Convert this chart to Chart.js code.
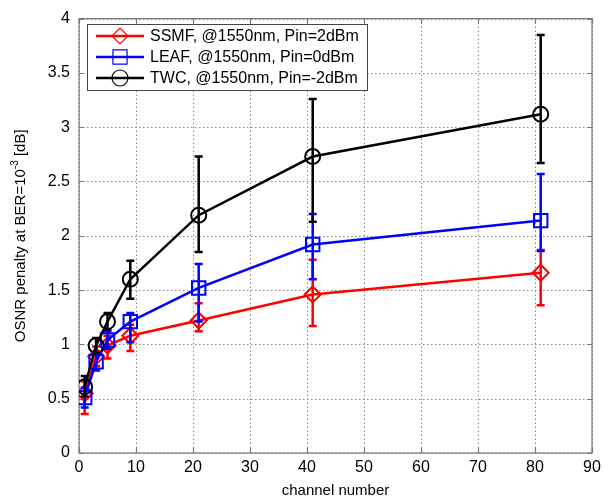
<!DOCTYPE html>
<html>
<head>
<meta charset="utf-8">
<script src="https://cdn.jsdelivr.net/npm/chart.js@4"></script>
<style>
  html, body { margin: 0; padding: 0; background: #fff; }
  #wrap { width: 610px; height: 502px; }
</style>
</head>
<body>
<div id="wrap"><canvas id="grafico" width="610" height="502"></canvas></div>
<script>
// datos
const canales = [1, 3, 5, 9, 21, 41, 81];

const ssmf     = [0.55, 0.89, 0.99, 1.08, 1.22, 1.46, 1.66];
const ssmfMin  = [0.36, 0.80, 0.87, 0.94, 1.12, 1.17, 1.36];
const ssmfMax  = [0.66, 0.98, 1.08, 1.18, 1.38, 1.78, 1.87];

const leaf     = [0.51, 0.84, 1.04, 1.21, 1.52, 1.92, 2.14];
const leafMin  = [0.42, 0.76, 0.96, 1.02, 1.21, 1.60, 1.86];
const leafMax  = [0.60, 0.92, 1.12, 1.29, 1.74, 2.20, 2.57];

const twc      = [0.61, 0.99, 1.21, 1.60, 2.19, 2.73, 3.12];
const twcMin   = [0.52, 0.92, 1.14, 1.42, 1.85, 2.13, 2.67];
const twcMax   = [0.71, 1.06, 1.29, 1.77, 2.73, 3.26, 3.85];

const etiquetas = ['SSMF, @1550nm, Pin=2dBm', 'LEAF, @1550nm, Pin=0dBm', 'TWC, @1550nm, Pin=-2dBm'];
const ticksX = [0, 10, 20, 30, 40, 50, 60, 70, 80, 90];
const ticksY = [0, 0.5, 1, 1.5, 2, 2.5, 3, 3.5, 4];

const FUENTE = '"Liberation Sans", Arial, sans-serif';

function serie(nombre, valores, color, forma, radio, orden) {
  return {
    label: nombre,
    data: canales.map((c, i) => ({ x: c, y: valores[i] })),
    borderColor: color,
    backgroundColor: 'rgba(0,0,0,0)',
    borderWidth: 2.5,
    pointStyle: forma,
    pointRadius: radio,
    pointBorderWidth: 2,
    pointBorderColor: color,
    pointBackgroundColor: 'rgba(0,0,0,0)',
    tension: 0,
    order: orden
  };
}

const barras = [
  { min: ssmfMin, max: ssmfMax },
  { min: leafMin, max: leafMax },
  { min: twcMin, max: twcMax }
];

// rejilla punteada tipo matlab
const rejilla = {
  id: 'rejilla',
  beforeDatasetsDraw(chart) {
    const ctx = chart.ctx;
    const a = chart.chartArea;
    const sx = chart.scales.x, sy = chart.scales.y;
    ctx.save();
    ctx.strokeStyle = '#8a8a8a';
    ctx.lineWidth = 1;
    ctx.setLineDash([1.5, 2.5]);
    ticksX.forEach(v => {
      const px = Math.round(sx.getPixelForValue(v)) + 0.5;
      ctx.beginPath(); ctx.moveTo(px, a.top); ctx.lineTo(px, a.bottom); ctx.stroke();
    });
    ticksY.forEach(v => {
      const py = Math.round(sy.getPixelForValue(v)) + 0.5;
      ctx.beginPath(); ctx.moveTo(a.left, py); ctx.lineTo(a.right, py); ctx.stroke();
    });
    ctx.setLineDash([]);
    ctx.strokeStyle = '#777';
    ctx.lineWidth = 1.2;
    ctx.strokeRect(a.left, a.top, a.right - a.left, a.bottom - a.top);
    // marcas interiores
    ctx.beginPath();
    ticksX.forEach(v => {
      const px = Math.round(sx.getPixelForValue(v)) + 0.5;
      ctx.moveTo(px, a.bottom); ctx.lineTo(px, a.bottom - 5);
      ctx.moveTo(px, a.top); ctx.lineTo(px, a.top + 5);
    });
    ticksY.forEach(v => {
      const py = Math.round(sy.getPixelForValue(v)) + 0.5;
      ctx.moveTo(a.left, py); ctx.lineTo(a.left + 5, py);
      ctx.moveTo(a.right, py); ctx.lineTo(a.right - 5, py);
    });
    ctx.stroke();
    ctx.restore();
  }
};

// barras de error, dibujadas con cada serie
const errorBars = {
  id: 'errorBars',
  afterDatasetDraw(chart, args) {
    const i = args.index;
    const ctx = chart.ctx;
    const sx = chart.scales.x, sy = chart.scales.y;
    const ds = chart.data.datasets[i];
    ctx.save();
    ctx.strokeStyle = ds.borderColor;
    ctx.lineWidth = 2.5;
    canales.forEach((c, k) => {
      const px = sx.getPixelForValue(c);
      const y1 = sy.getPixelForValue(barras[i].min[k]);
      const y2 = sy.getPixelForValue(barras[i].max[k]);
      ctx.beginPath();
      ctx.moveTo(px, y1); ctx.lineTo(px, y2);
      ctx.moveTo(px - 4, y1); ctx.lineTo(px + 4, y1);
      ctx.moveTo(px - 4, y2); ctx.lineTo(px + 4, y2);
      ctx.stroke();
    });
    ctx.restore();
  }
};

// titulos de ejes y leyenda estilo matlab
const marco = {
  id: 'marco',
  afterDraw(chart) {
    const ctx = chart.ctx;
    const a = chart.chartArea;
    ctx.save();
    // titulo eje x
    ctx.fillStyle = '#000';
    ctx.font = '15px ' + FUENTE;
    ctx.textAlign = 'center';
    ctx.textBaseline = 'middle';
    ctx.fillText('channel number', (a.left + a.right) / 2, 491);

    // titulo eje y con exponente
    ctx.translate(21, (a.top + a.bottom) / 2);
    ctx.rotate(-Math.PI / 2);
    const p1 = 'OSNR penalty at BER=10', sup = '-3', p2 = ' [dB]';
    ctx.font = '15px ' + FUENTE;
    const w1 = ctx.measureText(p1).width, w3 = ctx.measureText(p2).width;
    ctx.font = '10px ' + FUENTE;
    const w2 = ctx.measureText(sup).width;
    let x0 = -(w1 + w2 + w3) / 2;
    ctx.textAlign = 'left';
    ctx.font = '15px ' + FUENTE;
    ctx.fillText(p1, x0, 0);
    ctx.font = '10px ' + FUENTE;
    ctx.fillText(sup, x0 + w1, -6);
    ctx.font = '15px ' + FUENTE;
    ctx.fillText(p2, x0 + w1 + w2, 0);
    ctx.restore();

    // leyenda
    ctx.save();
    const bx = 87, by = 24, bw = 280, bh = 66;
    ctx.fillStyle = '#fff';
    ctx.fillRect(bx, by, bw, bh);
    ctx.strokeStyle = '#444';
    ctx.lineWidth = 1;
    ctx.strokeRect(bx + 0.5, by + 0.5, bw, bh);
    const radios = [8, 10, 8];
    [0, 1, 2].forEach((k, fila) => {
      const ds = chart.data.datasets[k];
      const yy = 36 + fila * 21;
      ctx.strokeStyle = ds.borderColor;
      ctx.lineWidth = 2.5;
      ctx.beginPath();
      ctx.moveTo(96, yy); ctx.lineTo(144, yy);
      ctx.stroke();
      ctx.lineWidth = 1.2;
      ctx.fillStyle = 'rgba(0,0,0,0)';
      Chart.helpers.drawPoint(ctx, { pointStyle: ds.pointStyle, radius: radios[k], borderWidth: 1.2, rotation: 0 }, 120, yy);
      ctx.fillStyle = '#000';
      ctx.font = '16px ' + FUENTE;
      ctx.textAlign = 'left';
      ctx.textBaseline = 'middle';
      ctx.fillText(etiquetas[k], 150, yy + 1);
    });
    ctx.restore();
  }
};

new Chart(document.getElementById('grafico'), {
  type: 'line',
  data: {
    datasets: [
      serie(etiquetas[0], ssmf, '#ff0000', 'rectRot', 8, 3),
      serie(etiquetas[1], leaf, '#0000ff', 'rect', 9.5, 2),
      serie(etiquetas[2], twc, '#000000', 'circle', 7.5, 1)
    ]
  },
  options: {
    responsive: false,
    animation: false,
    layout: { padding: { left: 0, top: 15, right: 18, bottom: 0 } },
    plugins: { legend: { display: false }, tooltip: { enabled: false } },
    scales: {
      x: {
        type: 'linear', min: 0, max: 90,
        afterBuildTicks: s => { s.ticks = ticksX.map(v => ({ value: v })); },
        afterFit: s => { s.height = 49; },
        grid: { display: false, drawTicks: false },
        border: { display: false },
        ticks: { color: '#000', padding: 5, font: { family: FUENTE, size: 16 }, maxRotation: 0, callback: v => String(v) }
      },
      y: {
        type: 'linear', min: 0, max: 4,
        afterBuildTicks: s => { s.ticks = ticksY.map(v => ({ value: v })); },
        afterFit: s => { s.width = 79; },
        grid: { display: false, drawTicks: false },
        border: { display: false },
        ticks: { color: '#000', padding: 9, font: { family: FUENTE, size: 16 }, callback: v => String(v) }
      }
    }
  },
  plugins: [rejilla, errorBars, marco]
});
</script>
</body>
</html>
